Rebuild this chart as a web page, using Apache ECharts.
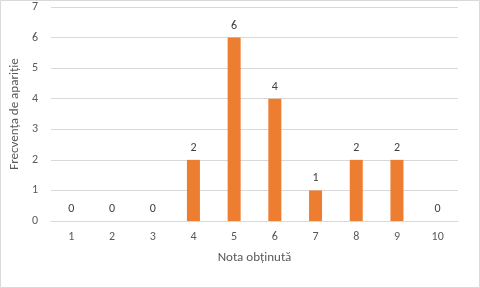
<!DOCTYPE html>
<html><head><meta charset="utf-8">
<script src="https://cdn.jsdelivr.net/npm/echarts@6/dist/echarts.min.js"></script>
<style>html,body{margin:0;padding:0;background:#fff}#c{width:480px;height:288px}</style>
</head><body><div id="c"></div>
<script>
const categories = ['1','2','3','4','5','6','7','8','9','10'];
const values = [0,0,0,2,6,4,1,2,2,0];
const yTicks = [0,1,2,3,4,5,6,7];
const xTitle = 'Nota obținută';
const yTitle = 'Frecvența de apariție';

const font = 'Calibri, Carlito, "Open Sans", Arial, sans-serif';
const txt = '#595959';
const chart = echarts.init(document.getElementById('c'));
chart.setOption({
  animation: false,
  graphic: [{type:'rect', shape:{x:0.5,y:0.5,width:479,height:287}, style:{fill:'none', stroke:'#d9d9d9', lineWidth:1}, silent:true}],
  grid: {left:46, right:22, top:7, bottom:67},
  xAxis: {
    type:'category', data:categories,
    name:xTitle, nameLocation:'middle', nameGap:30,
    nameTextStyle:{color:txt, fontSize:13, fontFamily:font},
    axisLine:{lineStyle:{color:'#d9d9d9'}},
    axisTick:{show:false},
    axisLabel:{color:txt, fontSize:12, fontFamily:font, margin:10}
  },
  yAxis: {
    type:'value', min:yTicks[0], max:yTicks[yTicks.length-1], interval:1,
    name:yTitle, nameLocation:'middle', nameGap:23,
    nameTextStyle:{color:txt, fontSize:13, fontFamily:font},
    axisLine:{show:false}, axisTick:{show:false},
    axisLabel:{color:txt, fontSize:12, fontFamily:font, margin:13},
    splitLine:{lineStyle:{color:'#d9d9d9'}}
  },
  series: [{
    type:'bar', data:values, barWidth:13,
    itemStyle:{color:'#ED7D31'},
    label:{show:true, position:'top', distance:6, color:'#404040', fontSize:12, fontFamily:font}
  }]
});
</script></body></html>
